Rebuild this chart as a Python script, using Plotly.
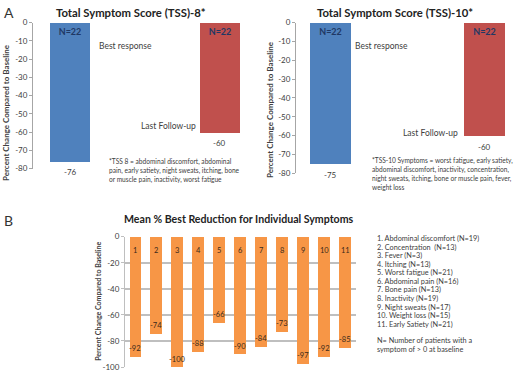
import plotly.graph_objects as go

W, H = 520, 375
FONT = "Lato"

# ---- Data ----
a_categories = ["Best response", "Last Follow-up"]
tss8_values = [-76, -60]
tss10_values = [-75, -60]
a_n_labels = ["N=22", "N=22"]

b_categories = [1, 2, 3, 4, 5, 6, 7, 8, 9, 10, 11]
b_values = [-92, -74, -100, -88, -66, -90, -84, -73, -97, -92, -85]
b_symptoms = [
    "Abdominal discomfort (N=19)",
    "Concentration  (N=13)",
    "Fever (N=3)",
    "Itching (N=13)",
    "Worst fatigue (N=21)",
    "Abdominal pain (N=16)",
    "Bone pain (N=13)",
    "Inactivity (N=19)",
    "Night sweats (N=17)",
    "Weight loss (N=15)",
    "Early Satiety (N=21)",
]
a_ticks = [0, -10, -20, -30, -40, -50, -60, -70, -80]
b_ticks = [0, -20, -40, -60, -80, -100]

BLUE = "#4F81BD"
RED = "#C0504D"
ORANGE = "#F79646"
NAVY = "#1F3864"
TXT = "#404040"


def px(x):
    return x / W


def py(y):
    return 1 - y / H


fig = go.Figure()

for vals, xa, ya in [(tss8_values, "x", "y"), (tss10_values, "x2", "y2")]:
    fig.add_trace(go.Bar(
        x=a_categories, y=vals, xaxis=xa, yaxis=ya,
        marker=dict(color=[BLUE, RED], line=dict(width=0)),
        width=0.267,
        text=a_n_labels, textposition="inside", insidetextanchor="start",
        textangle=0,
        textfont=dict(family=FONT, size=9, color=NAVY, weight="bold"),
        hoverinfo="skip", showlegend=False,
    ))

fig.add_trace(go.Bar(
    x=b_categories, y=b_values, xaxis="x3", yaxis="y3",
    marker=dict(color=ORANGE, line=dict(width=0)),
    width=0.57, hoverinfo="skip", showlegend=False,
))

tickfont = dict(family=FONT, size=8, color=TXT)
axA = dict(range=[-80, 0], tickvals=a_ticks, ticktext=[str(t) for t in a_ticks],
           showgrid=False, zeroline=False, showline=True, linecolor="#a6a6a6",
           linewidth=1, ticks="outside", ticklen=3, tickcolor="#a6a6a6",
           tickfont=tickfont)
fig.update_layout(
    width=W, height=H, margin=dict(l=0, r=0, t=0, b=0),
    paper_bgcolor="white", plot_bgcolor="white",
    font=dict(family=FONT, color=TXT),
    xaxis=dict(domain=[px(33), px(257)], range=[-0.25, 1.25], showticklabels=False,
               showgrid=False, zeroline=False, showline=False, ticks=""),
    yaxis=dict(domain=[py(168), py(18)], **axA),
    xaxis2=dict(domain=[px(296), px(515)], range=[-0.224, 1.2], showticklabels=False,
                showgrid=False, zeroline=False, showline=False, ticks=""),
    yaxis2=dict(domain=[py(173), py(18)], anchor="x2", **axA),
    xaxis3=dict(domain=[px(125), px(355.5)], range=[0.5, 11.5], showticklabels=False,
                showgrid=False, zeroline=False, showline=False, ticks="", anchor="y3"),
    yaxis3=dict(domain=[py(372), py(238)], anchor="x3", range=[-100, 0],
                tickvals=b_ticks, ticktext=[str(t) for t in b_ticks],
                showgrid=True, gridcolor="#bfbfbf", gridwidth=1.5, zeroline=False,
                showline=True, linecolor="#bfbfbf", ticks="outside", ticklen=3,
                tickcolor="#bfbfbf", tickfont=tickfont),
    bargap=0,
)

ann = []


def txt(x, y, s, size=8, xanchor="center", yanchor="middle", bold=False,
        color=TXT, angle=0, align="left"):
    ann.append(dict(x=px(x), y=py(y), xref="paper", yref="paper", text=s,
                    showarrow=False, xanchor=xanchor, yanchor=yanchor,
                    textangle=angle, align=align,
                    font=dict(family=FONT, size=size, color=color,
                              weight="bold" if bold else "normal")))


# Panel letters and titles
txt(2, 8, "A", size=14, xanchor="left", color="#333333")
txt(2, 221, "B", size=14, xanchor="left", color="#333333")
txt(131, 8, "Total Symptom Score (TSS)-8*", size=11.3, bold=True, color="#222222")
txt(395, 8, "Total Symptom Score (TSS)-10*", size=11.3, bold=True, color="#222222")
txt(239, 220, "Mean % Best Reduction for Individual Symptoms", size=10.6, bold=True,
    color="#222222")

# Y-axis titles
txt(6, 111, "Percent Change Compared to Baseline", size=8, bold=True, angle=-90)
txt(270, 108, "Percent Change Compared to Baseline", size=8, bold=True, angle=-90)
txt(98, 305, "Percent Change Compared to Baseline", size=7, bold=True, angle=-90)

# Panel A labels
txt(97, 42, "Best response", size=8.5, xanchor="left")
txt(198, 124, "Last Follow-up", size=8.5, xanchor="right")
txt(353, 42, "Best response", size=8.5, xanchor="left")
txt(460, 131, "Last Follow-up", size=8.5, xanchor="right")

# value labels below A bars
for vals, xa, ya in [(tss8_values, "x", "y"), (tss10_values, "x2", "y2")]:
    for c, v in zip(a_categories, vals):
        ann.append(dict(x=c, y=v, xref=xa, yref=ya, text=str(v), showarrow=False,
                        yanchor="top", yshift=-4,
                        font=dict(family=FONT, size=8, color=TXT)))

# footnotes
foot8 = ["*TSS 8 = abdominal discomfort, abdominal",
         "pain, early satiety, night sweats, itching, bone",
         "or muscle pain, inactivity, worst fatigue"]
foot10 = ["*TSS-10 Symptoms = worst fatigue, early satiety,",
          "abdominal discomfort, inactivity, concentration,",
          "night sweats, itching, bone or muscle pain, fever,",
          "weight loss"]
for i, line in enumerate(foot8):
    txt(107, 161 + 9 * i, line, size=6.6, xanchor="left")
for i, line in enumerate(foot10):
    txt(370, 160 + 9 * i, line, size=6.6, xanchor="left")

# Panel B bar labels
for c, v in zip(b_categories, b_values):
    ann.append(dict(x=c, y=0, xref="x3", yref="y3", text=str(c), showarrow=False,
                    yanchor="middle", yshift=-14,
                    font=dict(family=FONT, size=7.5, color="#3a2a1a")))
    ann.append(dict(x=c, y=v, xref="x3", yref="y3", text=str(v), showarrow=False,
                    yanchor="middle", yshift=8,
                    font=dict(family=FONT, size=7.5, color="#3a2a1a")))

for i, (c, s) in enumerate(zip(b_categories, b_symptoms)):
    txt(375, 240 + 8.8 * i, f"{c}. {s}", size=7.3, xanchor="left")
txt(375, 345, "N= Number of patients with a", size=7.3, xanchor="left")
txt(375, 354, "symptom of > 0 at baseline", size=7.3, xanchor="left")

fig.update_layout(annotations=ann)
fig.write_html("out.html", config={"displayModeBar": False},
               post_script="document.body.style.margin='0';document.body.style.overflow='hidden';")
